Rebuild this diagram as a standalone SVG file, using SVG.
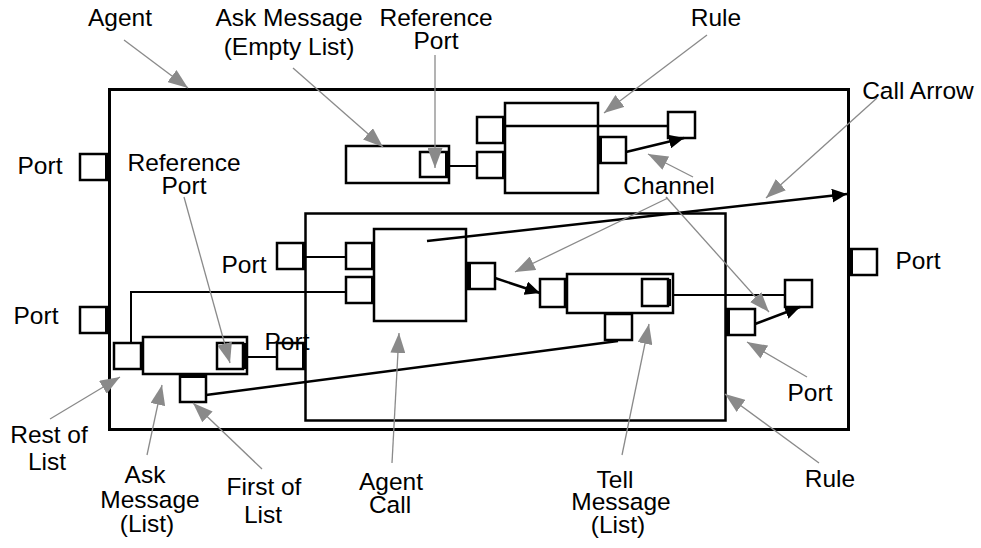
<svg xmlns="http://www.w3.org/2000/svg" width="981" height="548" viewBox="0 0 981 548">
  <style>
    .outer { fill: none; stroke: #000; stroke-width: 3; }
    .box { fill: #fff; stroke: #000; stroke-width: 2.5; }
    .port { fill: #fff; stroke: #000; stroke-width: 2.5; }
    .bar { stroke: #000; stroke-width: 4; }
    .wire { fill: none; stroke: #000; stroke-width: 2; }
    .divider { fill: none; stroke: #000; stroke-width: 2.5; }
    .chan { fill: none; stroke: #000; stroke-width: 2.5; marker-end: url(#blk); }
    .flow { fill: none; stroke: #000; stroke-width: 2.5; }
    .lead { fill: none; stroke: #8a8a8a; stroke-width: 1.3; marker-end: url(#gry); }
    text { font-family: "Liberation Sans", Arial, Helvetica, sans-serif; font-size: 24.5px; fill: #000; text-anchor: middle; }
  </style>
  <defs>
    <marker id="gry" markerUnits="userSpaceOnUse" markerWidth="21" markerHeight="15" refX="20" refY="7.5" orient="auto">
      <path d="M0,0 L20,7.5 L0,15 Z" fill="#8a8a8a"/>
    </marker>
    <marker id="blk" markerUnits="userSpaceOnUse" markerWidth="16" markerHeight="14" refX="15" refY="7" orient="auto">
      <path d="M0,0 L15,7 L0,14 Z" fill="#000"/>
    </marker>
  </defs>

  <!-- Agent frame with its outer ports -->
  <g id="agent">
    <rect class="outer" x="109.5" y="89.5" width="739" height="340"/>
  </g>
  <g id="agent-port-left-1">
    <rect class="port" x="80" y="154" width="27" height="26"/>
    <line class="bar" x1="107" y1="154" x2="107" y2="180"/>
  </g>
  <g id="agent-port-left-2">
    <rect class="port" x="80" y="307" width="27" height="26"/>
    <line class="bar" x1="107" y1="307" x2="107" y2="333"/>
  </g>
  <g id="agent-port-right">
    <rect class="port" x="850" y="249" width="27" height="26"/>
    <line class="bar" x1="851" y1="249" x2="851" y2="275"/>
  </g>

  <!-- Upper rule -->
  <g id="rule-top">
    <rect class="box" x="505" y="103" width="93" height="90"/>
    <rect class="port" x="477" y="117" width="27" height="26"/>
    <line class="bar" x1="504" y1="117" x2="504" y2="143"/>
    <rect class="port" x="477" y="152" width="27" height="26"/>
    <line class="bar" x1="504" y1="152" x2="504" y2="178"/>
    <rect class="port" x="599" y="137" width="27" height="26"/>
    <line class="bar" x1="600" y1="137" x2="600" y2="163"/>
  </g>
  <g id="ask-empty">
    <rect class="box" x="346" y="146" width="103" height="37"/>
    <rect class="port" x="420" y="152" width="27" height="25"/>
    <line class="bar" x1="447" y1="152" x2="447" y2="177"/>
  </g>
  <g id="rule-top-port">
    <rect class="port" x="668" y="112" width="27" height="26"/>
  </g>

  <!-- Lower rule -->
  <g id="rule-bottom">
    <rect class="box" x="305.5" y="213.5" width="420" height="207"/>
    <rect class="port" x="277" y="243" width="27" height="26"/>
    <line class="bar" x1="304" y1="243" x2="304" y2="269"/>
    <rect class="port" x="727" y="309" width="28" height="26"/>
    <line class="bar" x1="728" y1="309" x2="728" y2="335"/>
  </g>
  <g id="agent-call">
    <rect class="box" x="374" y="229" width="92" height="92"/>
    <rect class="port" x="346" y="243" width="27" height="26"/>
    <line class="bar" x1="373" y1="243" x2="373" y2="269"/>
    <rect class="port" x="346" y="277" width="27" height="26"/>
    <line class="bar" x1="373" y1="277" x2="373" y2="303"/>
    <rect class="port" x="468" y="263" width="27" height="26"/>
    <line class="bar" x1="469" y1="263" x2="469" y2="289"/>
  </g>
  <g id="ask-list">
    <rect class="box" x="143" y="337" width="104" height="37"/>
    <rect class="port" x="114" y="343" width="27" height="26"/>
    <line class="bar" x1="142" y1="343" x2="142" y2="369"/>
    <rect class="port" x="217" y="343" width="26" height="26"/>
    <line class="bar" x1="244" y1="343" x2="244" y2="369"/>
    <rect class="port" x="180" y="375" width="26" height="27"/>
    <line class="bar" x1="180" y1="376" x2="206" y2="376"/>
  </g>
  <g id="ask-list-port">
    <rect class="port" x="277" y="343" width="27" height="26"/>
    <line class="bar" x1="304" y1="343" x2="304" y2="369"/>
  </g>
  <g id="tell-list">
    <rect class="box" x="567" y="274" width="106" height="39"/>
    <rect class="port" x="540" y="279" width="25" height="28"/>
    <line class="bar" x1="566" y1="279" x2="566" y2="307"/>
    <rect class="port" x="642" y="279" width="26" height="27"/>
    <line class="bar" x1="669" y1="279" x2="669" y2="306"/>
    <rect class="port" x="605" y="314" width="27" height="26"/>
  </g>
  <g id="inner-port">
    <rect class="port" x="785" y="280" width="27" height="27"/>
  </g>

  <!-- Connectors -->
  <g id="connectors">
    <line class="wire" x1="449" y1="166" x2="477" y2="166"/>
    <line class="divider" x1="505" y1="126" x2="668" y2="126"/>
    <line class="chan" x1="626" y1="152" x2="684" y2="138"/>
    <line class="wire" x1="304" y1="257" x2="346" y2="257"/>
    <polyline class="wire" points="131,343 131,292 346,292"/>
    <line class="wire" x1="247" y1="357" x2="277" y2="357"/>
    <line class="flow" x1="206" y1="395" x2="618" y2="341"/>
    <line class="chan" x1="495" y1="278" x2="540" y2="293"/>
    <line class="wire" x1="673" y1="295" x2="785" y2="295"/>
    <line class="chan" x1="755" y1="324" x2="800" y2="307"/>
    <line class="chan" x1="427" y1="241" x2="847" y2="194"/>
  </g>

  <!-- Callout leaders -->
  <g id="leaders">
    <line class="lead" x1="124" y1="40" x2="188" y2="88"/>
    <line class="lead" x1="293" y1="68" x2="383" y2="147"/>
    <line class="lead" x1="435" y1="55" x2="435" y2="168"/>
    <line class="lead" x1="707" y1="35" x2="604" y2="113"/>
    <line class="lead" x1="877" y1="98" x2="766" y2="198"/>
    <line class="lead" x1="693" y1="177" x2="648" y2="154"/>
    <line class="lead" x1="668" y1="198" x2="515" y2="272"/>
    <line class="lead" x1="666" y1="197" x2="769" y2="312"/>
    <line class="lead" x1="184" y1="197" x2="230" y2="363"/>
    <line class="lead" x1="50" y1="419" x2="120" y2="377"/>
    <line class="lead" x1="147" y1="455" x2="162" y2="385"/>
    <line class="lead" x1="262" y1="469" x2="193" y2="403"/>
    <line class="lead" x1="392" y1="463" x2="399" y2="333"/>
    <line class="lead" x1="622" y1="455" x2="649" y2="324"/>
    <line class="lead" x1="819" y1="463" x2="725" y2="394"/>
    <line class="lead" x1="807" y1="377" x2="747" y2="342"/>
  </g>

  <!-- Labels -->
  <g id="labels">
    <text x="120" y="26">Agent</text>
    <text x="289" y="26">Ask Message</text>
    <text x="289" y="55">(Empty List)</text>
    <text x="436" y="26">Reference</text>
    <text x="436" y="49">Port</text>
    <text x="716" y="26">Rule</text>
    <text x="918" y="99">Call Arrow</text>
    <text x="40" y="174">Port</text>
    <text x="184" y="171">Reference</text>
    <text x="184" y="194">Port</text>
    <text x="669" y="194">Channel</text>
    <text x="244" y="273">Port</text>
    <text x="918" y="269">Port</text>
    <text x="36" y="324">Port</text>
    <text x="287" y="350">Port</text>
    <text x="810" y="401">Port</text>
    <text x="49" y="443">Rest of</text>
    <text x="47" y="470">List</text>
    <text x="145" y="483">Ask</text>
    <text x="150" y="508">Message</text>
    <text x="147" y="532">(List)</text>
    <text x="264" y="495">First of</text>
    <text x="263" y="523">List</text>
    <text x="391" y="490">Agent</text>
    <text x="390" y="513">Call</text>
    <text x="615" y="488">Tell</text>
    <text x="621" y="510">Message</text>
    <text x="618" y="533">(List)</text>
    <text x="830" y="487">Rule</text>
  </g>
</svg>
